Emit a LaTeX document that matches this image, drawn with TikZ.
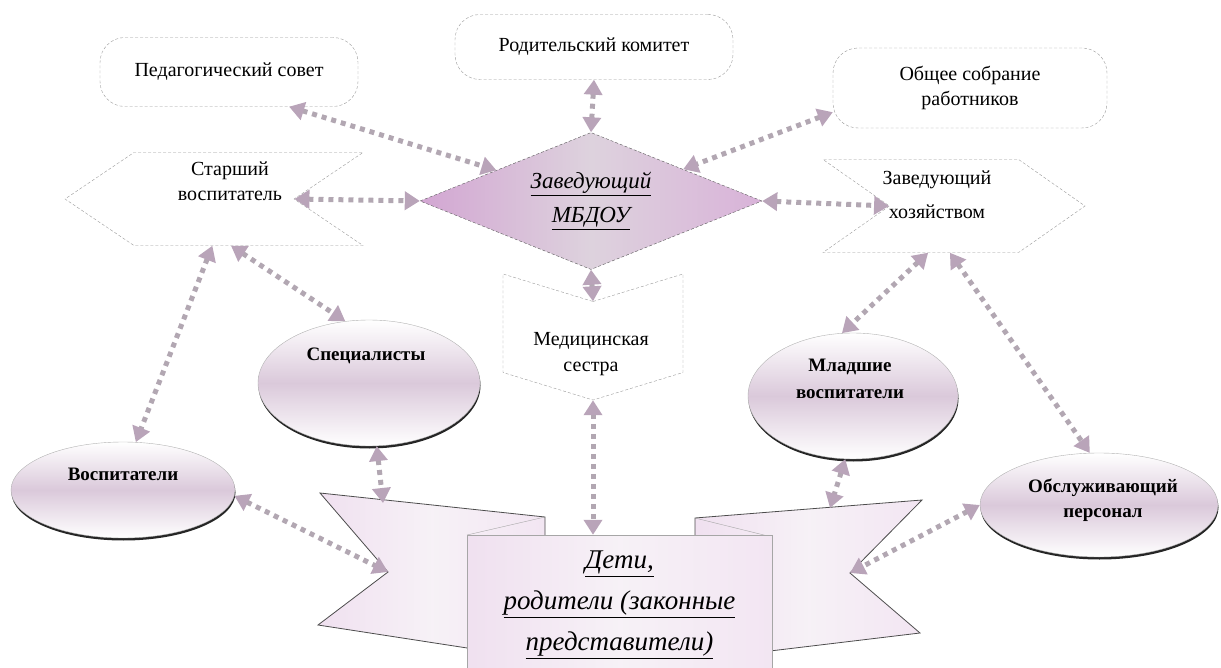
\documentclass[tikz,border=0pt]{standalone}
\usepackage{fontspec}
\setmainfont{Liberation Serif}
\usetikzlibrary{arrows.meta}
\usetikzlibrary{shapes.geometric}
\usetikzlibrary{shapes.symbols}
\usetikzlibrary{shadows}
\tikzset{>={Triangle[width=18pt,length=15pt,color=violet!30!gray!55]}}
\tikzset{
  lnk/.style={<->,line width=5pt,dash pattern=on 5pt off 5pt,color=violet!15!gray!60},
  rbox/.style={draw=gray!80,densely dashed,rounded corners=25pt,align=center,inner sep=0pt},
  chev/.style={signal,draw=gray!80,densely dashed,inner sep=0pt},
  tint/.style={left color=violet!35,right color=violet!30,middle color=green!20!violet!22},
  pale/.style={left color=violet!12,right color=violet!10,middle color=green!10!violet!6},
  oval/.style={ellipse,draw=gray!60,top color=white,bottom color=white,middle color=green!15!violet!25,
    inner sep=0pt,drop shadow={shadow xshift=0.5pt,shadow yshift=-2.5pt,fill=black,opacity=0.85}},
  ribn/.style={draw=gray!60!black,pale,line width=0.8pt}
}
\begin{document}
\begin{tikzpicture}[x=1pt,y=-1pt,font=\fontsize{20}{25}\selectfont]
    \useasboundingbox (0,0) rectangle (1221,668);
    % top row
    \node[rbox,minimum width=258pt,minimum height=69pt] (ped) at (229,72) {Педагогический совет};
    \node[rbox,minimum width=278pt,minimum height=65pt] (rod) at (594,47) {Родительский комитет};
    \node[rbox,minimum width=274pt,minimum height=80pt] (obsh) at (970,88) {Общее собрание\\работников};
    % head
    \node[diamond,draw=gray!70!black,densely dashed,tint,aspect=2.5,inner sep=0pt,align=center,
      minimum width=342pt,minimum height=137pt,font=\itshape\fontsize{23}{34}\selectfont]
      (zav) at (591,201) {\underline{Заведующий}\\\underline{МБДОУ}};
    \node[chev,signal to=west,signal from=east,signal pointer angle=68,
      minimum width=298pt,minimum height=93pt] (st) at (214,199) {};
    \node[align=center] (st-t) at (230,181) {Старший\\воспитатель};
    \node[chev,signal to=east,signal from=west,signal pointer angle=70,
      minimum width=262pt,minimum height=93pt] (hoz) at (954,206) {};
    \node[align=center,font=\fontsize{20}{34}\selectfont] (hoz-t) at (937,195) {Заведующий\\хозяйством};
    \node[chev,signal to=south,signal from=north,signal pointer angle=146,
      minimum width=180pt,minimum height=71pt] (med) at (593,337) {};
    \node[align=center,font=\fontsize{20}{26}\selectfont] (med-t) at (591,354) {Медицинская\\сестра};
    % staff
    \node[oval,minimum width=222pt,minimum height=126pt] (spec) at (369,383) {};
    \node[font=\bfseries\fontsize{19}{25}\selectfont] (spec-t) at (366,356) {Специалисты};
    \node[oval,minimum width=224pt,minimum height=96pt] (vosp) at (123,490) {};
    \node[font=\bfseries\fontsize{19}{25}\selectfont] (vosp-t) at (123,474) {Воспитатели};
    \node[oval,minimum width=210pt,minimum height=126pt] (mlad) at (853,396) {};
    \node[align=center,font=\bfseries\fontsize{19}{27}\selectfont] (mlad-t) at (850,379) {Младшие\\воспитатели};
    \node[oval,minimum width=238pt,minimum height=104pt] (obsl) at (1099,505) {};
    \node[align=center,font=\bfseries\fontsize{19}{25}\selectfont] (obsl-t) at (1103,500) {Обслуживающий\\персонал};
    % ribbon
    \draw[ribn] (320,493) -- (545,517) -- (545,660) -- (318,625) -- (388,572) -- cycle;
    \draw[ribn] (922,500) -- (695,518) -- (695,660) -- (920,633) -- (850,573) -- cycle;
    \draw[gray!70] (467,535) -- (545,517);
    \draw[gray!70] (695,518) -- (772,537);
    \node[draw=gray!70,pale,minimum width=305pt,minimum height=140pt,inner sep=0pt,align=center,
      font=\itshape\fontsize{27}{41}\selectfont]
      (deti) at (619.5,605) {\underline{Дети,}\\\underline{родители (законные}\\\underline{представители)}};
    \coordinate (rib-l) at (388,572);
    \coordinate (rib-lt) at (383,503);
    \coordinate (rib-rt) at (830,508);
    \coordinate (rib-r) at (850,573);
    % links
    \foreach \a/\b in {ped.330/zav.162, rod.south/zav.north, obsh.190/zav.19,
        st.east/zav.west, zav.east/hoz.west, zav.south/med.north,
        st.268/vosp.75, st.290/spec.111, vosp.357/rib-l, spec.277/rib-lt,
        mlad.263/rib-rt, obsl.west/rib-r, hoz.241/mlad.100, hoz.265/obsl.100} {
      \draw[lnk] (\a) -- (\b);
    }
    \draw[lnk] (med.south) -- (med.south |- deti.north);
\end{tikzpicture}
\end{document}
